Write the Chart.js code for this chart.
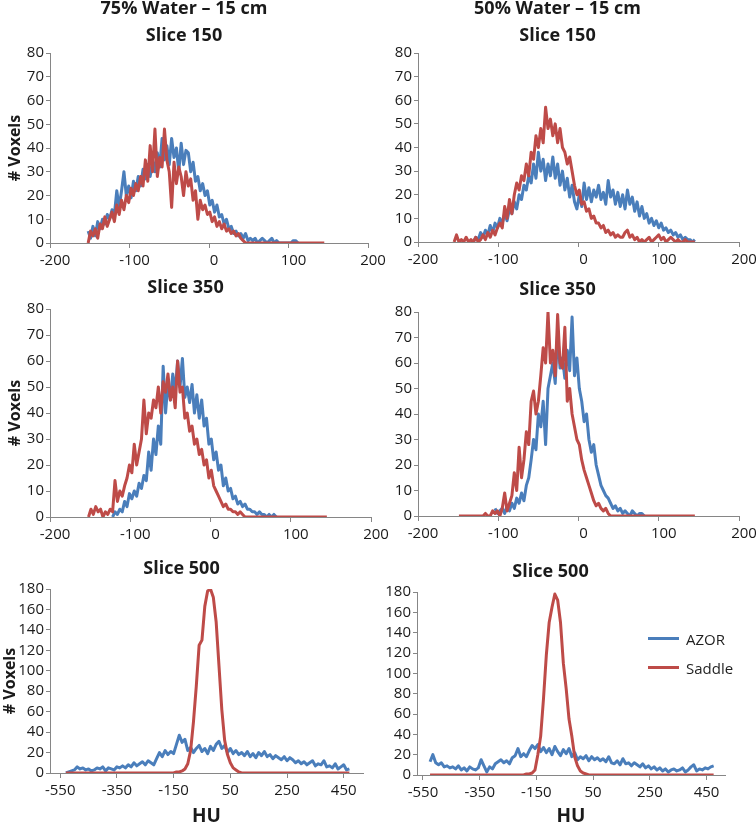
<!DOCTYPE html>
<html lang="en">
<head>
<meta charset="UTF-8">
<title>HU histograms – AZOR vs Saddle</title>
<style>
  body { margin: 0; background: #fff; width: 756px; height: 824px; overflow: hidden; position: relative; font-family: "Open Sans", sans-serif; }
  canvas { position: absolute; }
  #legend { position: absolute; left: 648px; top: 624px; font-size: 15px; color: #1f1f1f; }
  #legend .item { display: flex; align-items: center; height: 29px; }
  #legend .line { display: inline-block; width: 31px; height: 3px; margin-right: 7px; }
</style>
</head>
<body>
<canvas id="c1"></canvas>
<canvas id="c2"></canvas>
<canvas id="c3"></canvas>
<canvas id="c4"></canvas>
<canvas id="c5"></canvas>
<canvas id="c6"></canvas>
<div id="legend"></div>

<script src="https://cdn.jsdelivr.net/npm/chart.js"></script>
<script>
// bin centres in HU
function bins(start, step, n) {
    const a = [];
    for (let i = 0; i < n; i++) a.push(start + i * step);
    return a;
}
const huTop = bins(-155, 3, 101);       // slices 150 / 350
const huBottom75 = bins(-530, 10, 101); // 75% water, slice 500
const huBottom50 = bins(-525, 10, 101); // 50% water, slice 500

const topTicks = [-200, -100, 0, 100, 200];
const bottomTicks = [-550, -350, -150, 50, 250, 450];

// voxel counts (null = no bin drawn)
const azor75s150 = [null,
    5, 2, 7, 3, 9, 6, 10, 8, 12,
    10, 14, 12, 22, 15, 22, 30, 20, 24, 19,
    26, 22, 28, 24, 31, 27, 33, 28, 35, 30,
    38, 32, 44, 35, 41, 33, 44, 36, 40, 30,
    42, 33, 39, 38, 30, 34, 26, 28, 22, 25,
    20, 22, 16, 18, 13, 16, 11, 12, 8, 10,
    6, 7, 4, 5, 3, 4, 2, 4, 1, 2,
    1, 2, 0, 1, 2, 1, 0, 1, 2, 0,
    1, 0, 0, 0, 0, 0, 0, 1, 1, 0,
    null, null, null, null, null, null, null, null, null, null, null];
const saddle75s150 = [null,
    0, 5, 3, 6, 2, 8, 6, 11, 7,
    10, 13, 9, 16, 12, 18, 14, 20, 17, 23,
    20, 25, 22, 28, 24, 35, 26, 41, 30, 48,
    28, 36, 32, 48, 35, 30, 15, 34, 25, 32,
    28, 20, 30, 24, 27, 18, 22, 10, 18, 14,
    16, 12, 13, 9, 11, 7, 9, 6, 8, 5,
    6, 4, 5, 3, 4, 2, 1, 0, 0, 0,
    0, 0, 0, 0, 0, 0, 0, 0, 0, 0,
    0, 0, 0, 0, 0, 0, 0, 0, 0, 0,
    0, 0, 0, 0, 0, 0, 0, 0, 0, 0, 0];

const azor50s150 = [null, null, null, null, null, null, null, null,
    0, 2,
    1, 4, 2, 5, 3, 7, 4, 8, 6, 10,
    8, 12, 9, 14, 12, 17, 14, 20, 18, 24,
    22, 28, 25, 33, 27, 38, 30, 35, 26, 33,
    28, 36, 27, 33, 24, 30, 22, 27, 19, 24,
    17, 14, 20, 15, 25, 18, 23, 17, 22, 19,
    24, 18, 21, 16, 26, 19, 22, 16, 21, 15,
    20, 14, 22, 16, 19, 13, 17, 11, 15, 10,
    12, 8, 10, 7, 9, 6, 8, 5, 6, 4,
    5, 3, 4, 2, 3, 1, 2, 1, 1, 0,
    1];
const saddle50s150 = [
    0, 3, 0, 1, 0, 2, 0, 1, 0, 2,
    0, 1, 3, 1, 4, 2, 5, 3, 6, 8,
    6, 15, 10, 18, 12, 20, 25, 22, 28, 26,
    33, 28, 38, 35, 45, 40, 48, 42, 57, 48,
    52, 45, 50, 42, 48, 40, 38, 33, 36, 30,
    24, 20, 22, 16, 17, 13, 14, 10, 11, 8,
    8, 6, 7, 4, 5, 3, 4, 2, 3, 2,
    2, 4, 5, 2, 3, 1, 2, 0, 1, 0,
    1, 2, 0, 1, 2, 3, 1, 2, 0, 1,
    2, 1, 0, 1, 0, 0, 1, 0, 0, 0,
    0];

const azor75s350 = [null, null, null, null, null, null, null, null, null, null, null,
    0, 2, 1, 3, 2, 6, 4, 9, 7,
    10, 8, 13, 11, 16, 14, 25, 18, 30, 24,
    35, 28, 58, 40, 52, 45, 55, 48, 60, 50,
    61, 46, 50, 44, 51, 40, 47, 38, 45, 35,
    38, 28, 30, 22, 25, 18, 20, 12, 15, 10,
    11, 7, 8, 5, 6, 4, 5, 3, 3, 2,
    2, 1, 2, 1, 1, 0, 1, 0, 1, 0,
    null, null, null, null, null, null, null, null, null, null,
    null, null, null, null, null, null, null, null, null, null, null];
const saddle75s350 = [null,
    0, 3, 1, 4, 2, 3, 0, 2, 1,
    3, 2, 14, 6, 10, 8, 12, 15, 20, 17,
    28, 20, 25, 30, 45, 32, 40, 38, 45, 42,
    50, 40, 52, 48, 55, 45, 50, 42, 60, 48,
    50, 38, 40, 33, 35, 28, 30, 24, 26, 20,
    22, 15, 18, 12, 10, 8, 6, 4, 5, 3,
    3, 2, 2, 1, 2, 1, 0, 0, 0, 0,
    0, 0, 0, 0, 0, 0, 0, 0, 0, 0,
    0, 0, 0, 0, 0, 0, 0, 0, 0, 0,
    0, 0, 0, 0, 0, 0, 0, 0, 0, 0, 0];

const azor50s350 = [null, null, null, null, null, null, null, null, null, null,
    null, null, null, null, null, null, null,
    3, 1, 2,
    3, 1, 4, 2, 5, 3, 7, 5, 9, 6,
    12, 15, 22, 30, 26, 40, 35, 45, 28, 50,
    55, 60, 52, 72, 58, 62, 54, 65, 57, 78,
    55, 62, 50, 45, 37, 40, 30, 25, 28, 20,
    16, 12, 10, 8, 7, 5, 3, 4, 2, 3,
    1, 2, 1, 0, 2, 1, 0, 1, 1, 0,
    null, null, null, null, null, null, null, null, null, null,
    null, null, null, null, null, null, null, null, null, null, null];
const saddle50s350 = [null, null,
    0, 0, 0, 0, 0, 0, 0, 0,
    0, 0, 0, 1, 0, 0, 2, 1, 2, 0,
    3, 9, 2, 5, 8, 17, 10, 27, 15, 22,
    33, 28, 45, 49, 40, 45, 55, 66, 60, 80,
    60, 65, 55, 79, 60, 58, 74, 45, 50, 40,
    35, 30, 28, 22, 18, 15, 12, 9, 6, 4,
    5, 3, 2, 3, 1, 0, 0, 0, 0, 0,
    0, 0, 0, 0, 0, 0, 0, 0, 0, 0,
    0, 0, 0, 0, 0, 0, 0, 0, 0, 0,
    0, 0, 0, 0, 0, 0, 0, 0, 0, 0, 0];

const azor75s500 = [
    0, 1, 2, 3, 6, 4, 5, 3, 4, 2,
    3, 5, 4, 6, 2, 5, 4, 3, 6, 5,
    7, 5, 8, 6, 10, 7, 9, 11, 8, 12,
    10, 8, 14, 20, 16, 22, 18, 21, 19, 28,
    37, 30, 33, 22, 25, 20, 24, 27, 21, 24,
    19, 26, 22, 28, 31, 24, 27, 20, 24, 19,
    22, 18, 20, 17, 21, 16, 19, 15, 20, 17,
    21, 16, 18, 14, 17, 15, 13, 16, 12, 15,
    13, 10, 12, 9, 11, 8, 10, 12, 7, 9,
    8, 12, 6, 7, 5, 9, 4, 6, 8, 3,
    4];
const saddle75s500 = [
    0, 0, 0, 0, 0, 0, 0, 0, 0, 0,
    0, 0, 0, 0, 0, 0, 0, 0, 0, 0,
    0, 0, 0, 0, 0, 0, 0, 0, 0, 0,
    0, 0, 0, 0, 0, 0, 0, 0, 0, 1,
    1, 2, 4, 9, 22, 50, 85, 125, 130, 163,
    178, 180, 172, 148, 105, 62, 32, 18, 10, 5,
    3, 1, 0, 0, 0, 0, 0, 0, 0, 0,
    0, 0, 0, 0, 0, 0, 0, 0, 0, 0,
    0, 0, 0, 0, 0, 0, 0, 0, 0, 0,
    0, 0, 0, 0, 0, 0, 0, 0, 0, 0,
    0];

const azor50s500 = [
    13, 20, 12, 10, 12, 8, 9, 7, 8, 6,
    9, 5, 7, 4, 8, 6, 5, 7, 15, 9,
    3, 8, 6, 11, 13, 15, 12, 14, 11, 17,
    19, 26, 18, 21, 18, 24, 29, 26, 30, 23,
    27, 22, 26, 20, 28, 23, 19, 25, 21, 26,
    18, 22, 15, 18, 16, 19, 14, 18, 15, 17,
    14, 16, 13, 18, 12, 11, 14, 10, 16, 11,
    12, 9, 12, 10, 8, 11, 7, 9, 6, 8,
    5, 7, 4, 6, 3, 5, 6, 4, 5, 7,
    3, 5, 8, 10, 4, 6, 5, 7, 6, 8,
    9];
const saddle50s500 = [
    0, 0, 0, 0, 0, 0, 0, 0, 0, 0,
    0, 0, 0, 0, 0, 0, 0, 0, 0, 0,
    0, 0, 0, 0, 0, 0, 0, 0, 0, 0,
    0, 0, 0, 0, 1, 1, 2, 5, 20, 38,
    75, 118, 150, 165, 178, 172, 150, 110, 85, 55,
    38, 18, 9, 4, 2, 1, 0, 0, 0, 0,
    0, 0, 0, 0, 0, 0, 0, 0, 0, 0,
    0, 0, 0, 0, 0, 0, 0, 0, 0, 0,
    0, 0, 0, 0, 0, 0, 0, 0, 0, 0,
    0, 0, 0, 0, 0, 0, 0, 0, 0, 0,
    0];

const FONT = '"Open Sans", sans-serif';
const BLUE = '#4A7EBB';
const RED = '#BE4B48';
const AXIS = '#868686';
const TEXT = '#1a1a1a';

function pts(xs, ys) {
    const out = [];
    xs.forEach((x, i) => { if (ys[i] !== null) out.push({ x: x, y: ys[i] }); });
    return out;
}

// canvas placement for each panel
const panels = [
    { id: 'c1', x: 0, y: 0, w: 430, h: 273, title: '75% Water – 15 cm', sub: 'Slice 150', tp: [0, 8.5], sp: [0, 8.5],
      yW: 50, xH: 30, padR: 62, yTitle: true, yTitlePad: 5.4, hu: huTop, azor: azor75s150, saddle: saddle75s150,
      xMin: -200, xMax: 200, ticks: topTicks, lo: 5, yMax: 80, yStep: 10 },
    { id: 'c2', x: 376, y: 0, w: 414, h: 272, title: '50% Water – 15 cm', sub: 'Slice 150', tp: [0, 8.5], sp: [0, 8.5],
      yW: 42, xH: 30, padR: 51, yTitle: false, hu: huTop, azor: azor50s150, saddle: saddle50s150,
      xMin: -200, xMax: 200, ticks: topTicks, lo: 5, yMax: 80, yStep: 10 },
    { id: 'c3', x: 0, y: 270, w: 426, h: 277, title: 'Slice 350', tp: [9, 12],
      yW: 50, xH: 30, padR: 55, yTitle: true, yTitlePad: 5.4, hu: huTop, azor: azor75s350, saddle: saddle75s350,
      xMin: -200, xMax: 200, ticks: topTicks, lo: 5, yMax: 80, yStep: 10 },
    { id: 'c4', x: 376, y: 270, w: 420, h: 276, title: 'Slice 350', tp: [11, 13],
      yW: 42, xH: 30, padR: 57, yTitle: false, hu: huTop, azor: azor50s350, saddle: saddle50s350,
      xMin: -200, xMax: 200, ticks: topTicks, lo: 5, yMax: 80, yStep: 10 },
    { id: 'c5', x: 0, y: 545, w: 424, h: 285, title: 'Slice 500', tp: [14.5, 11.5],
      yW: 50, xH: 57, padR: 61, yTitle: true, yTitlePad: 1, xTitle: 'HU', hu: huBottom75, azor: azor75s500, saddle: saddle75s500,
      xMin: -586, xMax: 518, ticks: bottomTicks, lo: 0, yMax: 180, yStep: 20 },
    { id: 'c6', x: 376, y: 545, w: 404, h: 285, title: 'Slice 500', tp: [18, 11],
      yW: 41, xH: 55, padR: 55, yTitle: false, xTitle: 'HU', hu: huBottom50, azor: azor50s500, saddle: saddle50s500,
      xMin: -571, xMax: 515, ticks: bottomTicks, lo: 0, yMax: 180, yStep: 20 }
];

const titleFont = { family: FONT, size: 18, weight: 'bold', lineHeight: 1 };
const tickFont = { family: FONT, size: 15 };

const charts = panels.map(p => {
    const cv = document.getElementById(p.id);
    cv.width = p.w;
    cv.height = p.h;
    cv.style.left = p.x + 'px';
    cv.style.top = p.y + 'px';

    return new Chart(cv, {
        type: 'line',
        data: {
            datasets: [
                { label: 'AZOR', data: pts(p.hu, p.azor), borderColor: BLUE, backgroundColor: BLUE,
                  borderWidth: 3, pointRadius: 0, order: 1, borderJoinStyle: 'round' },
                { label: 'Saddle', data: pts(p.hu, p.saddle), borderColor: RED, backgroundColor: RED,
                  borderWidth: 3, pointRadius: 0, order: 0, borderJoinStyle: 'round' }
            ]
        },
        options: {
            responsive: false,
            animation: false,
            layout: { padding: { left: 0, top: 0, right: p.padR, bottom: 0 } },
            plugins: {
                legend: { display: false },
                tooltip: { enabled: false },
                title: { display: true, text: p.title, font: titleFont, color: TEXT,
                         padding: { top: p.tp[0], bottom: p.tp[1] } },
                subtitle: { display: !!p.sub, text: p.sub || '', font: titleFont, color: TEXT,
                            padding: { top: p.sp ? p.sp[0] : 0, bottom: p.sp ? p.sp[1] : 0 } }
            },
            scales: {
                x: {
                    type: 'linear',
                    min: p.xMin,
                    max: p.xMax,
                    afterBuildTicks: s => { s.ticks = p.ticks.map(v => ({ value: v })); },
                    afterFit: s => { s.height = p.xH; },
                    ticks: { font: tickFont, color: TEXT, padding: 4, labelOffset: p.lo,
                             maxRotation: 0, autoSkip: false, callback: v => String(v) },
                    grid: { drawOnChartArea: false, drawTicks: true, tickLength: 5, color: AXIS },
                    border: { color: AXIS, width: 1 },
                    title: { display: !!p.xTitle, text: p.xTitle || '', color: TEXT,
                             font: { family: FONT, size: 19, weight: 'bold' },
                             padding: { top: 0, bottom: 1.6 } }
                },
                y: {
                    min: 0,
                    max: p.yMax,
                    afterFit: s => { s.width = p.yW; },
                    ticks: { stepSize: p.yStep, autoSkip: false, font: tickFont, color: TEXT, padding: 2 },
                    grid: { drawOnChartArea: false, drawTicks: true, tickLength: 4, color: AXIS },
                    border: { color: AXIS, width: 1 },
                    title: { display: p.yTitle, text: '# Voxels', color: TEXT,
                             font: { family: FONT, size: 16, weight: 'bold' },
                             padding: { top: p.yTitlePad || 0, bottom: 0 } }
                }
            }
        }
    });
});

// legend sits inside the last panel
const legendEl = document.getElementById('legend');
charts[5].data.datasets.forEach(ds => {
    const item = document.createElement('div');
    item.className = 'item';
    const line = document.createElement('span');
    line.className = 'line';
    line.style.background = ds.borderColor;
    const txt = document.createElement('span');
    txt.textContent = ds.label;
    item.appendChild(line);
    item.appendChild(txt);
    legendEl.appendChild(item);
});
</script>
</body>
</html>
